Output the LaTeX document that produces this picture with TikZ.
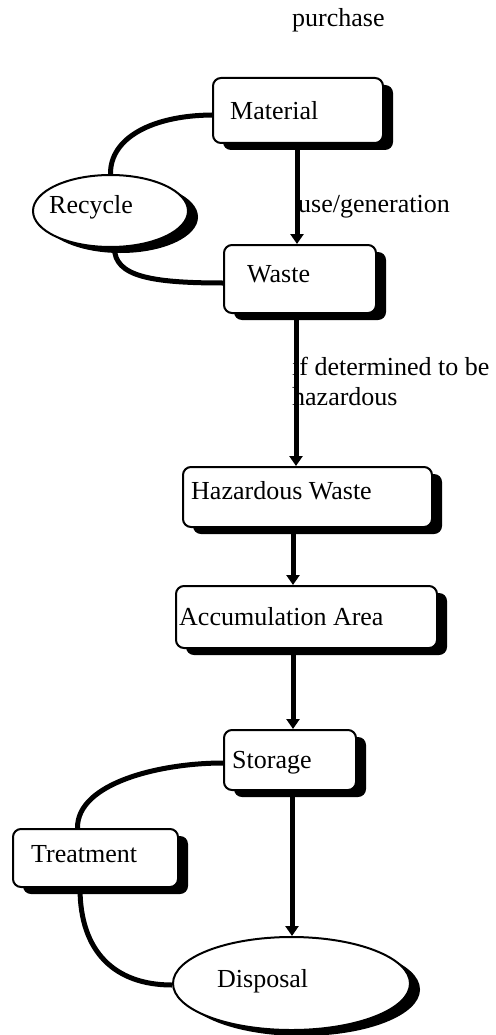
\documentclass[tikz,border=0pt]{standalone}
\usepackage{fontspec}
\setmainfont{Liberation Serif}
\usetikzlibrary{arrows.meta,shadows,calc,backgrounds,shapes.geometric}

\tikzset{
  stagebox/.style={draw=black, line width=2pt, fill=white, rounded corners=8pt,
    inner sep=0pt, minimum width=#1,
    drop shadow={shadow xshift=10pt, shadow yshift=-7pt, fill=black, opacity=1}},
  stageoval/.style={ellipse, draw=black, line width=2pt, fill=white, inner sep=0pt,
    drop shadow={shadow xshift=10pt, shadow yshift=-6pt, fill=black, opacity=1}},
  txt/.style={anchor=base west, inner sep=0pt, font=\fontsize{26}{30}\selectfont},
  flow/.style={line width=5pt, -{Triangle[width=13pt,length=10pt]}},
  loop/.style={line width=5pt}
}

\begin{document}
\begin{tikzpicture}[x=1pt, y=-1pt]
\useasboundingbox (0,0) rectangle (495,1035);

% columns of the main vertical flow
\coordinate (colA) at (297,0);
\coordinate (colB) at (296,0);
\coordinate (colC) at (293,0);
\coordinate (colD) at (292,0);

% stages
\node[stagebox=170pt, minimum height=65pt] (mat) at (298,110.5) {};
\node[stagebox=152pt, minimum height=68pt] (waste) at (300,279) {};
\node[stagebox=249pt, minimum height=60pt] (haz) at (307.5,497) {};
\node[stagebox=261pt, minimum height=62pt] (acc) at (306.5,617) {};
\node[stagebox=132pt, minimum height=60pt] (sto) at (290,760) {};
\node[stagebox=165pt, minimum height=58pt] (trt) at (95.5,858) {};
\node[stageoval, minimum width=155pt, minimum height=72pt] (rec) at (110.5,211) {};
\node[stageoval, minimum width=237pt, minimum height=93pt] (dis) at (291.5,983.5) {};

% stage names
\node[txt] (matT) at (230,120) {Material};
\node[txt] (wasteT) at (247,282) {Waste};
\node[txt] (hazT) at (191,499) {Hazardous Waste};
\node[txt] (accT) at (179,625) {Accumulation Area};
\node[txt] (stoT) at (232,768) {Storage};
\node[txt] (trtT) at (31,862) {Treatment};
\node[txt] (recT) at (49,213) {Recycle};
\node[txt] (disT) at (217,987) {Disposal};

% step labels
\node[txt] (purch) at (292,27) {purchase};
\node[txt] (usegen) at (298,212) {use/generation};
\node[txt] (detA) at (292,375) {if determined to be};
\node[txt] (detB) at (292,405) {hazardous};

\begin{pgfonlayer}{background}
  % main flow
  \draw[flow] (mat.south -| colA) -- (waste.north -| colA);
  \draw[flow] (waste.south -| colB) -- (haz.north -| colB);
  \draw[flow] (haz.south -| colC) -- (acc.north -| colC);
  \draw[flow] (acc.south -| colC) -- (sto.north -| colC);
  \draw[flow] (sto.south -| colD) -- (dis.north -| colD);

  % recycling loop
  \draw[loop] ($(mat.west)+(0,4.5)$) .. controls (152,115.5) and (110,138) .. (rec.north);
  \draw[loop] ($(rec.south)+(4,0)$) .. controls (114.5,276) and (150,283) .. ($(waste.west)+(0,4)$);

  % treatment loop
  \draw[loop] ($(sto.west)+(0,3)$) .. controls (160,763) and (77,783) .. ($(trt.north)+(-18,0)$);
  \draw[loop] ($(trt.south)+(-15.5,0)$) .. controls (80,952) and (115,985) .. ($(dis.west)+(0,1.5)$);
\end{pgfonlayer}
\end{tikzpicture}
\end{document}
